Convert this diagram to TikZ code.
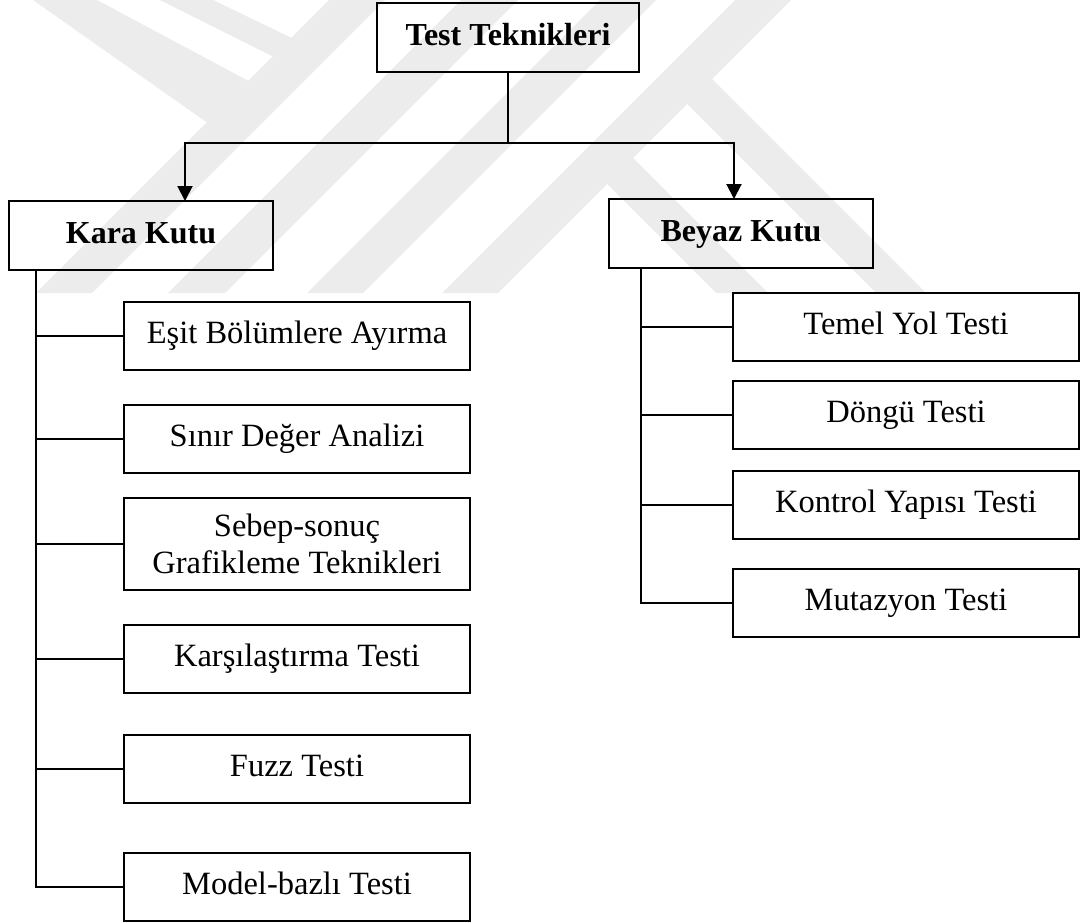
\documentclass[tikz,border=0pt]{standalone}
\usepackage{fontspec}
\setmainfont{Liberation Serif}
\usetikzlibrary{arrows.meta}
\definecolor{wmark}{RGB}{236,236,236}
\tikzset{
  frame/.style={draw=black, line width=2pt, minimum width=346pt, minimum height=68pt,
    inner sep=0pt, outer sep=0pt, align=center, font=\fontsize{32.5}{37}\selectfont},
  box/.style={frame, text height=22pt, text depth=7pt},
  headbox/.style={box, minimum width=264pt, minimum height=69pt,
    font=\bfseries\fontsize{32}{37}\selectfont},
  link/.style={line width=2pt},
  arr/.style={link, -{Triangle[width=15pt,length=15pt]}},
  wm/.style={fill=wmark, draw=none}
}
\begin{document}
\begin{tikzpicture}[x=1pt,y=-1pt]
\useasboundingbox (0,0) rectangle (1081,922);

% background emblem: diagonal stripes
\fill[wm] (36,293) -- (92,293) -- (385,0) -- (329,0) -- cycle;
\fill[wm] (168,293) -- (225,293) -- (518,0) -- (461,0) -- cycle;
\fill[wm] (307,293) -- (363,293) -- (656,0) -- (600,0) -- cycle;
\fill[wm] (442,293) -- (498,293) -- (791,0) -- (735,0) -- cycle;
\fill[wm] (33,0) -- (97,0) -- (258,86) -- (212,126) -- cycle;
\fill[wm] (160,0) -- (213,0) -- (296,40) -- (284,62) -- cycle;
\fill[wm] (706,73) -- (926,293) -- (876,293) -- (681,98) -- cycle;
\fill[wm] (627,152) -- (768,293) -- (716,293) -- (601,178) -- cycle;

% root and the two main groups
\node[headbox, minimum width=262pt] (root) at (508,37.5) {Test Teknikleri};
\node[headbox] (kara)  at (141,235.5) {Kara Kutu};
\node[headbox] (beyaz) at (741,233.5) {Beyaz Kutu};

% black-box techniques
\node[box] (esit)  at (297,336)   {Eşit Bölümlere Ayırma};
\node[box] (sinir) at (297,439)   {Sınır Değer Analizi};
\node[frame, minimum height=92pt] (sebep) at (297,544) {Sebep-sonuç\\Grafikleme Teknikleri};
\node[box] (karsi) at (297,658.5) {Karşılaştırma Testi};
\node[box] (fuzz)  at (297,769)   {Fuzz Testi};
\node[box] (model) at (297,886.5) {Model-bazlı Testi};

% white-box techniques
\node[box] (temel)    at (906,327) {Temel Yol Testi};
\node[box] (dongu)    at (906,415) {Döngü Testi};
\node[box] (kontrol)  at (906,505) {Kontrol Yapısı Testi};
\node[box] (mutasyon) at (906,603) {Mutazyon Testi};

% split from the root
\coordinate (hub) at (508,143);
\coordinate (kl)  at (185,143);
\coordinate (kr)  at (734,143);
\draw[link] (root.south) -- (hub);
\draw[arr] (hub) -| (kl |- kara.north);
\draw[arr] (hub) -| (kr |- beyaz.north);

% left spine
\coordinate (ks) at (36,0);
\draw[link] (kara.south -| ks) |- (model.west);
\foreach \n in {esit,sinir,sebep,karsi,fuzz}
  \draw[link] (\n.west -| ks) -- (\n.west);

% right spine
\coordinate (bs) at (641,0);
\draw[link] (beyaz.south -| bs) |- (mutasyon.west);
\foreach \n in {temel,dongu,kontrol}
  \draw[link] (\n.west -| bs) -- (\n.west);
\end{tikzpicture}
\end{document}
